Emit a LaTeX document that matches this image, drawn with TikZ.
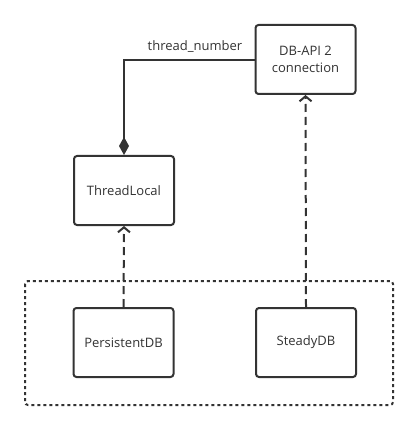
\documentclass[tikz,border=0pt]{standalone}
\usepackage{fontspec}
\setmainfont{Open Sans}
\usetikzlibrary{arrows.meta}
\definecolor{ink}{HTML}{333333}
\begin{document}
\begin{tikzpicture}[x=1pt,y=-1pt,
  box/.style={draw=ink, line width=2pt, rounded corners=3pt, fill=white, minimum width=100pt, minimum height=69pt, inner sep=0pt, text=ink, align=center, font=\fontsize{13}{17}\selectfont},
  dep/.style={draw=ink, line width=2pt, dash pattern=on 8pt off 5pt, -{Straight Barb[length=5pt,width=12pt,line width=2pt]}},
  lbl/.style={text=ink, font=\fontsize{13}{17}\selectfont, inner sep=0pt}]
\useasboundingbox (0,0) rectangle (418,430);
\draw[ink, line width=2pt, dash pattern=on 3pt off 3pt, rounded corners=3pt] (25,281) rectangle (393,405);
\node[box] (api) at (305.5,59.5) {DB-API 2\\connection};
\node[box] (tl) at (124,190.5) {ThreadLocal};
\node[box] (pdb) at (123.5,342.5) {PersistentDB};
\node[box] (sdb) at (306,342.5) {SteadyDB};
\draw[ink, line width=2pt, -{Diamond[length=18pt,width=10pt]}] (api.west |- 0,60) -| (tl.north);
\node[lbl] (tn) at (195,47) {thread\_number};
\draw[dep] (pdb.north) -- (tl.south);
\draw[dep] (sdb.north) -- (api.south);
\end{tikzpicture}
\end{document}
